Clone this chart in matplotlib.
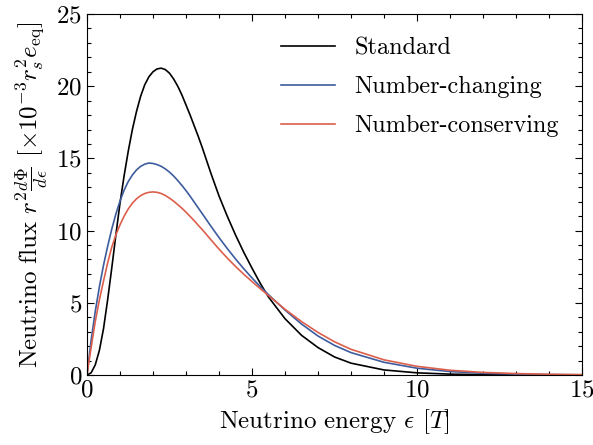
import numpy as np
import matplotlib
matplotlib.use("Agg")
import matplotlib.pyplot as plt
from matplotlib.ticker import MultipleLocator

plt.rcParams['font.family'] = 'serif'
plt.rcParams['font.serif'] = ['cmr10']
plt.rcParams['mathtext.fontset'] = 'cm'
plt.rcParams['axes.formatter.use_mathtext'] = True
plt.rcParams['font.size'] = 18

energy = [0, 0.125, 0.25, 0.375, 0.5, 0.625, 0.75, 0.875, 1.0, 1.125, 1.25, 1.375,
          1.5, 1.625, 1.75, 1.875, 2.0, 2.125, 2.25, 2.375, 2.5, 2.625, 2.75, 2.875,
          3.0, 3.125, 3.25, 3.375, 3.5, 3.75, 4.0, 4.25, 4.5, 4.75, 5.0, 5.25, 5.5,
          6.0, 6.5, 7.0, 7.5, 8.0, 9.0, 10.0, 11.0, 12.0, 13.0, 14.0, 15.0]
standard = [0, 0.15, 0.7, 1.7, 3.2, 5.2, 7.4, 9.7, 11.9, 13.8, 15.5, 17.0,
            18.25, 19.3, 20.1, 20.65, 21.0, 21.2, 21.25, 21.15, 20.9, 20.5, 20.0, 19.4,
            18.7, 18.0, 17.25, 16.5, 15.7, 14.0, 12.4, 11.0, 9.7, 8.5, 7.4, 6.35, 5.4,
            3.9, 2.75, 1.9, 1.25, 0.82, 0.35, 0.15, 0.06, 0.025, 0.01, 0.004, 0.002]
number_changing = [0, 2.4, 4.4, 6.1, 7.6, 8.9, 10.1, 11.15, 12.05, 12.8, 13.4, 13.85,
                   14.2, 14.45, 14.6, 14.68, 14.65, 14.57, 14.45, 14.27, 14.05, 13.78, 13.47, 13.13,
                   12.77, 12.38, 11.97, 11.56, 11.15, 10.32, 9.52, 8.76, 8.04, 7.36, 6.72, 6.12, 5.56,
                   4.5, 3.53, 2.7, 2.05, 1.55, 0.88, 0.47, 0.24, 0.12, 0.06, 0.03, 0.015]
number_conserving = [0, 1.9, 3.7, 5.2, 6.5, 7.75, 8.85, 9.7, 10.4, 11.0, 11.5, 11.9,
                     12.2, 12.42, 12.57, 12.65, 12.68, 12.65, 12.57, 12.43, 12.25, 12.04, 11.8, 11.55,
                     11.28, 10.98, 10.68, 10.36, 10.05, 9.38, 8.72, 8.1, 7.52, 6.98, 6.47, 5.98, 5.5,
                     4.55, 3.7, 2.95, 2.3, 1.78, 1.05, 0.6, 0.33, 0.18, 0.1, 0.05, 0.025]

fig = plt.figure(figsize=(5.93, 4.45), dpi=100)
ax = fig.add_axes([0.1467, 0.1573, 0.8348, 0.8112])

ax.plot(energy, standard, color='black', lw=1.2, label='Standard')
ax.plot(energy, number_changing, color='#3d5c9e', lw=1.2, label='Number-changing')
ax.plot(energy, number_conserving, color='#dc5f4b', lw=1.2, label='Number-conserving')

ax.set_xlim(0, 15)
ax.set_ylim(0, 25)
ax.xaxis.set_major_locator(MultipleLocator(5))
ax.xaxis.set_minor_locator(MultipleLocator(1))
ax.yaxis.set_major_locator(MultipleLocator(5))
ax.yaxis.set_minor_locator(MultipleLocator(1))
ax.tick_params(which='both', direction='in', top=True, right=True, labelsize=18)
ax.tick_params(which='major', length=5, width=0.8)
ax.tick_params(which='minor', length=2.8, width=0.8)

ax.set_xlabel(r'Neutrino energy $\epsilon$ $[T]$', fontsize=18)
ax.set_ylabel(r'Neutrino flux $r^2\frac{d\Phi}{d\epsilon}$ $[\times 10^{-3} r_s^2 e_{\rm eq}]$', fontsize=18)

ax.legend(loc='upper right', frameon=False, fontsize=17.5, handlelength=2.2,
          labelspacing=0.68, bbox_to_anchor=(0.997, 0.995))

fig.savefig('out.png', dpi=100)
